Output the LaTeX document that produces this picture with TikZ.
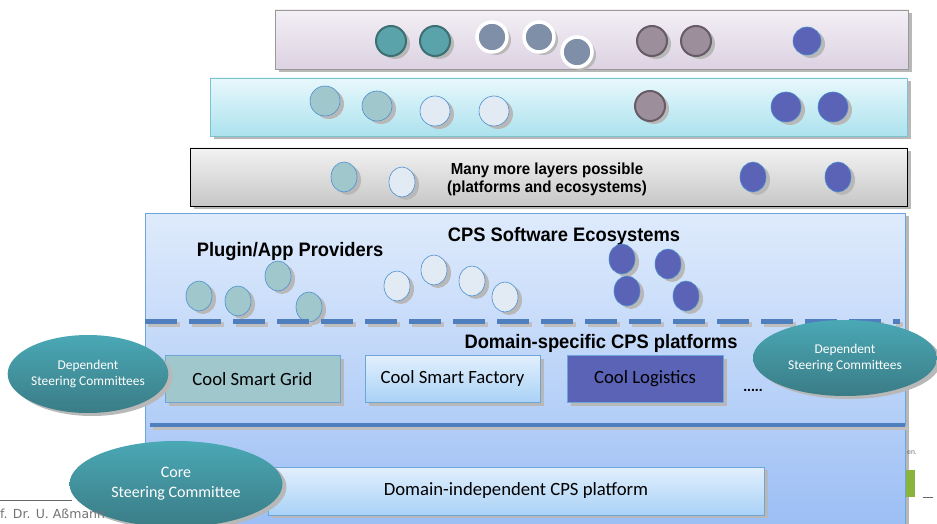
\documentclass[tikz,border=0pt]{standalone}
\usepackage{fontspec}
\setmainfont{Liberation Sans}
\newfontfamily\carl{Carlito}
\newfontfamily\nar{Liberation Sans}[FakeStretch=0.94]
\newfontfamily\foot{DejaVu Sans}
\usetikzlibrary{shapes.geometric,shadows}
\definecolor{tealA}{HTML}{5AA3AB}
\definecolor{tealAd}{HTML}{3D6F73}
\definecolor{slate}{HTML}{7F8FA8}
\definecolor{mauve}{HTML}{9D8E9C}
\definecolor{mauved}{HTML}{675B66}
\definecolor{blueC}{HTML}{5A63B5}
\definecolor{edgeB}{HTML}{4A8FD0}
\definecolor{tealL}{HTML}{9FC7CC}
\definecolor{paleC}{HTML}{E2EAF4}
\definecolor{dashC}{HTML}{4F7FBF}
\definecolor{ellT}{HTML}{4AA8B5}
\definecolor{ellB}{HTML}{3A7C86}
\definecolor{l1t}{HTML}{F3EFF5}
\definecolor{l1b}{HTML}{DCD2E2}
\definecolor{l2t}{HTML}{E8F8FC}
\definecolor{l2b}{HTML}{ACE2EE}
\definecolor{l2e}{HTML}{7CC3CF}
\definecolor{l4t}{HTML}{DFEBFC}
\definecolor{l4b}{HTML}{98BCF4}
\definecolor{bxt}{HTML}{E2EFFD}
\definecolor{bxb}{HTML}{A9D2F6}
\definecolor{grn}{HTML}{8AB43C}
\tikzset{
  sh/.style={drop shadow={shadow xshift=4pt,shadow yshift=-3pt,fill=black!28,opacity=1}},
  lay/.style={sh,rectangle,inner sep=0pt},
  dot/.style={sh,ellipse,inner sep=0pt,minimum width=30pt,minimum height=30pt},
  cTA/.style={dot,fill=tealA,draw=tealAd,line width=2pt},
  cSL/.style={dot,fill=slate,draw=white,line width=3.5pt},
  cMV/.style={dot,fill=mauve,draw=mauved,line width=2pt},
  cBL/.style={dot,fill=blueC,draw=edgeB,line width=0.6pt},
  cTL/.style={dot,fill=tealL,draw=edgeB,line width=0.6pt},
  cPL/.style={dot,fill=paleC,draw=edgeB,line width=0.6pt},
  small/.style={minimum width=26pt,minimum height=30pt},
  bx/.style={sh,rectangle,draw=edgeB!80,line width=0.6pt,inner sep=0pt,minimum height=47pt,font=\carl\fontsize{18.7}{21}\selectfont},
  steer/.style={sh,ellipse,inner sep=0pt,top color=ellT,bottom color=ellB,draw=none,text=white,align=center,font=\carl\fontsize{13.4}{16}\selectfont},
  hd/.style={font=\nar\bfseries\fontsize{19.5}{21}\selectfont},
  dsh/.style={draw=dashC,line width=5pt}
}
\begin{document}
\begin{tikzpicture}[x=1pt,y=-1pt]
\useasboundingbox (0,0) rectangle (937,524);
\fill[white] (0,0) rectangle (937,524);
% layers
\node[lay,top color=l1t,bottom color=l1b,draw=black!40,minimum width=633pt,minimum height=59pt] (L1) at (591.5,39.5) {};
\node[lay,top color=l2t,bottom color=l2b,draw=l2e,line width=0.8pt,minimum width=697pt,minimum height=58pt] (L2) at (558.5,107) {};
\node[lay,top color=black!5,bottom color=black!22,draw=black,line width=0.8pt,minimum width=717pt,minimum height=58pt] (L3) at (548.5,177) {};
\node[lay,top color=l4t,bottom color=l4b,draw=edgeB!80,line width=0.8pt,minimum width=760pt,minimum height=330pt,anchor=north west] (L4) at (145,213) {};
% top layer circles
\node[cTA] (a1) at (391,41) {};
\node[cTA] (a2) at (435,41) {};
\node[cSL] (a3) at (492,37) {};
\node[cSL] (a4) at (539,37) {};
\node[cSL] (a5) at (577,52) {};
\node[cMV] (a6) at (652,41) {};
\node[cMV] (a7) at (696,41) {};
\node[cBL,minimum width=28pt,minimum height=28pt] (a8) at (807,41) {};
% cyan layer circles
\node[cTL] (b1) at (325,101) {};
\node[cTL] (b2) at (377,106) {};
\node[cPL] (b3) at (435,111) {};
\node[cPL] (b4) at (494,111) {};
\node[cMV,minimum width=30pt] (b5) at (650,106) {};
\node[cBL] (b6) at (786,107) {};
\node[cBL] (b7) at (833,107) {};
% gray layer
\node[cTL,small] (g1) at (344,177) {};
\node[cPL,small] (g2) at (402,182) {};
\node[cBL,small] (g3) at (753,177) {};
\node[cBL,small] (g4) at (838,177) {};
\node[font=\nar\bfseries\fontsize{16}{18}\selectfont,align=center] (g5) at (547,179) {Many more layers possible\\(platforms and ecosystems)};
% ecosystem layer
\node[hd] (t1) at (290,252) {Plugin/App Providers};
\node[hd] (t2) at (564,236) {CPS Software Ecosystems};
\node[cTL,small] (e1) at (199,296) {};
\node[cTL,small] (e2) at (238,301) {};
\node[cTL,small] (e3) at (278,276) {};
\node[cTL,small] (e4) at (309,307) {};
\node[cPL,small] (e5) at (397,286) {};
\node[cPL,small] (e6) at (434,270) {};
\node[cPL,small] (e7) at (472,281) {};
\node[cPL,small] (e8) at (505,297) {};
\node[cBL,small] (e9) at (622,259) {};
\node[cBL,small] (e10) at (668,264) {};
\node[cBL,small] (e11) at (627,291) {};
\node[cBL,small] (e12) at (686,296) {};
% dashed separator
\coordinate (d0) at (145,321);
\coordinate (d1) at (900,321);
\draw[draw=black!25,line width=5pt,dash pattern=on 32pt off 12pt] ([shift={(3,3)}]d0) -- ([shift={(3,3)}]d1);
\draw[dsh,dash pattern=on 32pt off 12pt] (d0) -- (d1);
% domain-specific
\node[hd] (t3) at (601,343) {Domain-specific CPS platforms};
\node[bx,fill=tealL,minimum width=175pt] (p1) at (252.5,379) {Cool Smart Grid};
\node[bx,top color=bxt,bottom color=bxb,minimum width=175pt] (p2) at (452.5,379) {Cool Smart Factory};
\node[bx,fill=blueC,minimum width=156pt] (p3) at (645,379) {Cool Logistics};
\node[font=\bfseries\fontsize{14}{16}\selectfont] (p4) at (753,390) {.....};
\coordinate (s0) at (150,425);
\coordinate (s1) at (905,425);
\draw[black!25,line width=4pt] ([shift={(3,3)}]s0) -- ([shift={(3,3)}]s1);
\draw[dashC,line width=4pt] (s0) -- (s1);
% domain independent
\node[bx,top color=bxt,bottom color=bxb,minimum width=496pt,minimum height=48pt] (p5) at (516,491) {Domain-independent CPS platform};
% steering committees
\node[steer,minimum width=160pt,minimum height=78pt] (s1e) at (88,374) {Dependent\\Steering Committees};
\node[steer,minimum width=184pt,minimum height=76pt] (s2e) at (845,358) {Dependent\\Steering Committees};
\node[steer,minimum width=213pt,minimum height=86pt,font=\carl\fontsize{16}{20}\selectfont] (s3e) at (176,484) {Core\\Steering Committee};
% footer fragments
\draw[black!60,line width=1pt] (0,500) -- (72,500);
\node[anchor=west,text=black!55,font=\foot\fontsize{12.5}{14}\selectfont,inner sep=0pt] (ft) at (0,514) {f. Dr. U. Aßmann};
\draw[black!60,line width=1pt] (923,497) -- (933,497);
\fill[grn] (906,470) rectangle (915,497);
\node[anchor=west,text=black!55,font=\fontsize{7}{8}\selectfont,inner sep=0pt] (en) at (907,453) {en.};
\end{tikzpicture}
\end{document}
